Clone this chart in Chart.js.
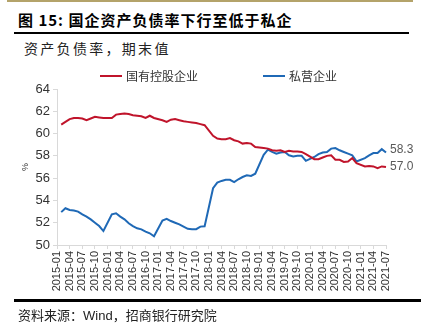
<!DOCTYPE html>
<html>
<head>
<meta charset="utf-8">
<script src="https://cdn.jsdelivr.net/npm/chart.js@4"></script>
<style>
  body { margin: 0; width: 428px; height: 335px; position: relative; overflow: hidden; background: #fff;
         font-family: "Noto Sans CJK SC", sans-serif; color: #222; }
  #topline { position: absolute; left: 7px; top: 0; width: 406px; height: 2px; background: #b4a36a; }
  #title { position: absolute; left: 18px; top: 10px; line-height: 20px; font-size: 15px; font-weight: bold;
           letter-spacing: 1px; color: #000; white-space: nowrap; }
  #rule1 { position: absolute; left: 14px; top: 32px; width: 395px; height: 2px; background: #000; }
  #sub { position: absolute; left: 24px; top: 38px; line-height: 20px; font-size: 14px; letter-spacing: 2.3px; white-space: nowrap; }
  #wrap { position: absolute; left: 0; top: 60px; width: 428px; height: 240px; }
  #rule2 { position: absolute; left: 14px; top: 299px; width: 407px; height: 3px; background: #000; }
  #src { position: absolute; left: 18px; top: 306px; line-height: 18px; font-size: 13px; white-space: nowrap; }
  #src span { font-family: "Liberation Sans", Arial, sans-serif; }
</style>
</head>
<body>
<div id="topline"></div>
<div id="title">图 15: 国企资产负债率下行至低于私企</div>
<div id="rule1"></div>
<div id="sub">资产负债率，期末值</div>
<div id="wrap"><canvas id="chart" width="428" height="240"></canvas></div>
<div id="rule2"></div>
<div id="src">资料来源：<span>Wind</span>，招商银行研究院</div>

<script>
// monthly categories 2015-01 .. 2021-07
const months = [];
for (let y = 2015; y <= 2021; y++) {
  for (let m = 1; m <= 12; m++) {
    if (y === 2021 && m > 7) break;
    months.push(y + '-' + String(m).padStart(2, '0'));
  }
}

const seriesNames = ['国有控股企业', '私营企业'];

// no January figures (Jan-Feb published together)
const stateOwned = [
  null, 60.8, 61.05, 61.3, 61.4, 61.4, 61.35, 61.2, 61.35, 61.5, 61.45, 61.4,
  null, 61.4, 61.7, 61.75, 61.8, 61.75, 61.65, 61.6, 61.55, 61.4, 61.6, 61.4,
  null, 61.2, 61.05, 61.25, 61.3, 61.2, 61.1, 61.05, 61.0, 60.95, 60.85, 60.75,
  null, 59.8, 59.55, 59.5, 59.5, 59.6, 59.4, 59.3, 59.1, 59.15, 59.1, 58.8,
  null, 58.7, 58.65, 58.5, 58.45, 58.5, 58.35, 58.45, 58.4, 58.4, 58.35, 58.15,
  null, 57.7, 57.7, 57.85, 58.0, 58.05, 57.65, 57.65, 57.45, 57.5, 57.8, 57.35,
  null, 57.05, 57.1, 57.05, 56.9, 57.05, 57.0
];

const privateFirms = [
  null, 52.95, 53.3, 53.15, 53.1, 53.0, 52.75, 52.55, 52.3, 52.0, 51.7, 51.25,
  null, 52.75, 52.85, 52.55, 52.3, 51.95, 51.7, 51.5, 51.4, 51.2, 51.05, 50.78,
  null, 52.2, 52.35, 52.15, 52.0, 51.85, 51.65, 51.45, 51.42, 51.42, 51.65, 51.68,
  null, 55.1, 55.6, 55.75, 55.85, 55.85, 55.65, 55.9, 56.1, 56.25, 56.2, 56.4,
  null, 58.1, 58.55, 58.35, 58.2, 58.3, 58.35, 58.05, 57.95, 58.0, 58.0, 57.55,
  null, 57.9, 58.15, 58.3, 58.35, 58.65, 58.7, 58.5, 58.35, 58.2, 58.05, 57.5,
  null, 57.8, 58.05, 58.25, 58.25, 58.6, 58.3
];

const yTicks = [50, 52, 54, 56, 58, 60, 62, 64];

const red = '#c0142b';
const blue = '#1f69b6';
const axisGrey = '#d9d9d9';

// legend + last-value labels drawn on the chart canvas
const extrasPlugin = {
  id: 'extras',
  afterDraw(chart) {
    const ctx = chart.ctx;
    const legendX = [100, 263];
    const legendY = 16;
    ctx.save();
    ctx.textBaseline = 'middle';
    ctx.textAlign = 'left';
    chart.data.datasets.forEach((ds, i) => {
      const x = legendX[i];
      ctx.strokeStyle = ds.borderColor;
      ctx.lineWidth = 2;
      ctx.beginPath();
      ctx.moveTo(x, legendY);
      ctx.lineTo(x + 22, legendY);
      ctx.stroke();
      ctx.fillStyle = '#333';
      ctx.font = '12px "Noto Sans CJK SC"';
      ctx.fillText(ds.label, x + 26, legendY);

      const pts = chart.getDatasetMeta(i).data;
      const last = pts[pts.length - 1];
      const val = ds.data[ds.data.length - 1];
      ctx.fillStyle = '#595959';
      ctx.font = '12px "Liberation Sans"';
      ctx.fillText(val.toFixed(1), last.x + 4, last.y - (i === 1 ? 3 : 0));
    });
    ctx.restore();
  }
};

const ctx = document.getElementById('chart').getContext('2d');
new Chart(ctx, {
  type: 'line',
  data: {
    labels: months,
    datasets: [
      { label: seriesNames[0], data: stateOwned, borderColor: red, borderWidth: 2, pointRadius: 0, spanGaps: true, tension: 0 },
      { label: seriesNames[1], data: privateFirms, borderColor: blue, borderWidth: 2, pointRadius: 0, spanGaps: true, tension: 0 }
    ]
  },
  options: {
    responsive: false,
    animation: false,
    layout: { padding: { top: 29, right: 42, left: 0, bottom: 0 } },
    plugins: {
      legend: { display: false },
      tooltip: { enabled: false }
    },
    scales: {
      x: {
        type: 'category',
        afterBuildTicks: (s) => { s.ticks = s.ticks.filter(t => t.value % 3 === 0); },
        afterFit: (s) => { s.height = 55; },
        ticks: {
          autoSkip: false, maxRotation: 90, minRotation: 90, padding: 2,
          color: '#333', font: { family: '"Liberation Sans"', size: 11 }
        },
        grid: { drawOnChartArea: false, tickLength: 4, color: axisGrey },
        border: { color: axisGrey }
      },
      y: {
        min: yTicks[0],
        max: yTicks[yTicks.length - 1],
        afterBuildTicks: (s) => { s.ticks = yTicks.map(v => ({ value: v })); },
        afterFit: (s) => { s.width = 57; },
        ticks: { padding: 3, color: '#333', font: { family: '"Liberation Sans"', size: 13 } },
        grid: { drawOnChartArea: false, tickLength: 4, color: axisGrey },
        border: { color: axisGrey },
        title: { display: true, text: '%', color: '#333', font: { family: '"Liberation Sans"', size: 9 }, padding: { top: 20, bottom: 0 } }
      }
    }
  },
  plugins: [extrasPlugin]
});
</script>
</body>
</html>
